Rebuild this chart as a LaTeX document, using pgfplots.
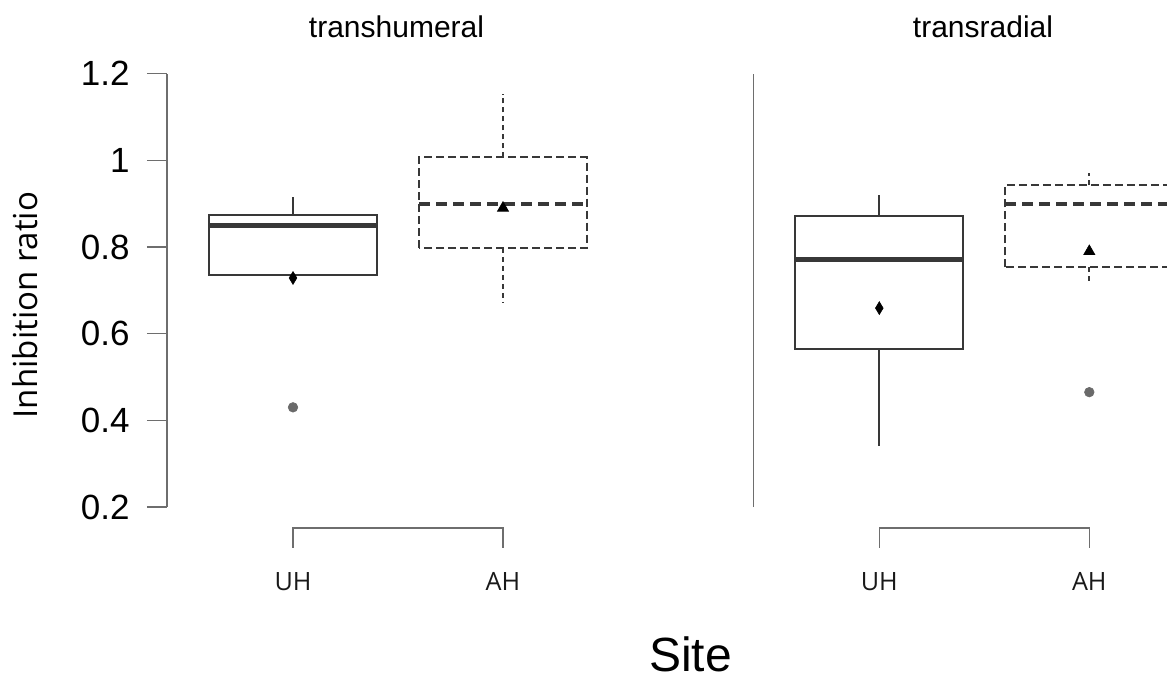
\documentclass[border=0pt]{standalone}
\usepackage{pgfplots}
\pgfplotsset{compat=1.18}
\usepgfplotslibrary{statistics}
\usepackage{fontspec}
\setmainfont{Liberation Sans}
\newfontfamily\osans{Open Sans}
\definecolor{boxc}{HTML}{383838}
\definecolor{axc}{HTML}{6E6E6E}
\definecolor{outc}{HTML}{6A6A6A}
\tikzset{catlab/.style={anchor=base, text=black!90, font=\osans\fontsize{12.6}{13}\selectfont}}
\begin{document}
\begin{tikzpicture}
\pgfplotsset{
  panel/.style={
    scale only axis, width=231pt, height=216.67pt,
    xmin=0.4, xmax=2.6, ymin=0.2, ymax=1.2, enlargelimits=false,
    axis x line=none, axis y line*=left,
    clip=false,
    boxplot/draw direction=y,
    boxplot/box extend=0.8, boxplot/whisker extend=0,
  },
  solidbox/.style={draw=boxc, line width=1pt, solid,
    mark=*, mark size=2.4pt, mark options={solid, draw=outc, fill=outc, line width=0.3pt},
    boxplot/every median/.style={line width=2.6pt}},
  dashbox/.style={draw=boxc, line width=1pt, dash pattern=on 4pt off 2pt,
    mark=*, mark size=2.4pt, mark options={solid, draw=outc, fill=outc, line width=0.3pt},
    boxplot/every whisker/.style={dash pattern=on 2.5pt off 2pt},
    boxplot/every median/.style={line width=2.3pt, dash pattern=on 5.5pt off 3pt}},
  meanA/.style={only marks, mark=diamond*, mark size=3.2pt, mark options={solid, xscale=0.8, draw=black, fill=black, line width=0.3pt}},
  meanB/.style={only marks, mark=triangle*, mark size=3.2pt, mark options={solid, draw=black, fill=black, line width=0.3pt}},
}
% ---------------- left panel: transhumeral
\begin{axis}[panel, at={(83.5pt,85pt)}, anchor=south west,
  ytick={0.2,0.4,0.6,0.8,1,1.2}, yticklabels={0.2,0.4,0.6,0.8,1,1.2},
  tick align=outside, major tick length=10pt,
  ytick style={axc, line width=0.75pt},
  y axis line style={axc, line width=0.75pt},
  yticklabel style={font=\fontsize{17.5}{18}\selectfont, anchor=east, inner sep=0pt, xshift=-8.5pt}]
\addplot[solidbox, boxplot prepared={lower whisker=0.7346, lower quartile=0.7346, median=0.849,
  upper quartile=0.8746, upper whisker=0.9146, draw position=1}] coordinates {(0,0.430)};
\addplot[dashbox, boxplot prepared={lower whisker=0.671, lower quartile=0.798, median=0.899,
  upper quartile=1.007, upper whisker=1.153, draw position=2}] coordinates {};
\addplot[meanA] coordinates {(1,0.7285)};
\addplot[meanB] coordinates {(2,0.890)};
\draw[axc, line width=0.75pt] (axis cs:1,0.106) -- (axis cs:1,0.152) -- (axis cs:2,0.152) -- (axis cs:2,0.106);
\node[catlab] at (axis cs:1,0.007) {UH};
\node[catlab] at (axis cs:2,0.007) {AH};
\end{axis}
% ---------------- right panel: transradial
\begin{axis}[panel, at={(376.65pt,85pt)}, anchor=south west,
  ytick=\empty,
  y axis line style={axc, line width=0.5pt}]
\addplot[solidbox, boxplot prepared={lower whisker=0.340, lower quartile=0.565, median=0.772,
  upper quartile=0.871, upper whisker=0.921, draw position=1}] coordinates {};
\addplot[dashbox, boxplot prepared={lower whisker=0.718, lower quartile=0.753, median=0.899,
  upper quartile=0.943, upper whisker=0.971, draw position=2}] coordinates {(0,0.465)};
\addplot[meanA] coordinates {(1,0.659)};
\addplot[meanB] coordinates {(2,0.790)};
\draw[axc, line width=0.75pt] (axis cs:1,0.106) -- (axis cs:1,0.152) -- (axis cs:2,0.152) -- (axis cs:2,0.106);
\node[catlab] at (axis cs:1,0.007) {UH};
\node[catlab] at (axis cs:2,0.007) {AH};
\end{axis}
% ---------------- titles and labels
\node[anchor=base, font=\fontsize{15}{16}\selectfont] at (198.25pt,320pt) {transhumeral};
\node[anchor=base, font=\fontsize{15}{16}\selectfont] at (491.5pt,320pt) {transradial};
\node[rotate=90, anchor=base, font=\osans\fontsize{16.5}{17}\selectfont] at (18.5pt,186pt) {Inhibition ratio};
\node[anchor=base, inner sep=0pt, font=\fontsize{24}{25}\selectfont] at (345.25pt,3pt) {Site};
\pgfresetboundingbox
\useasboundingbox (0pt,0pt) rectangle (583.5pt,338.5pt);
\end{tikzpicture}
\end{document}
